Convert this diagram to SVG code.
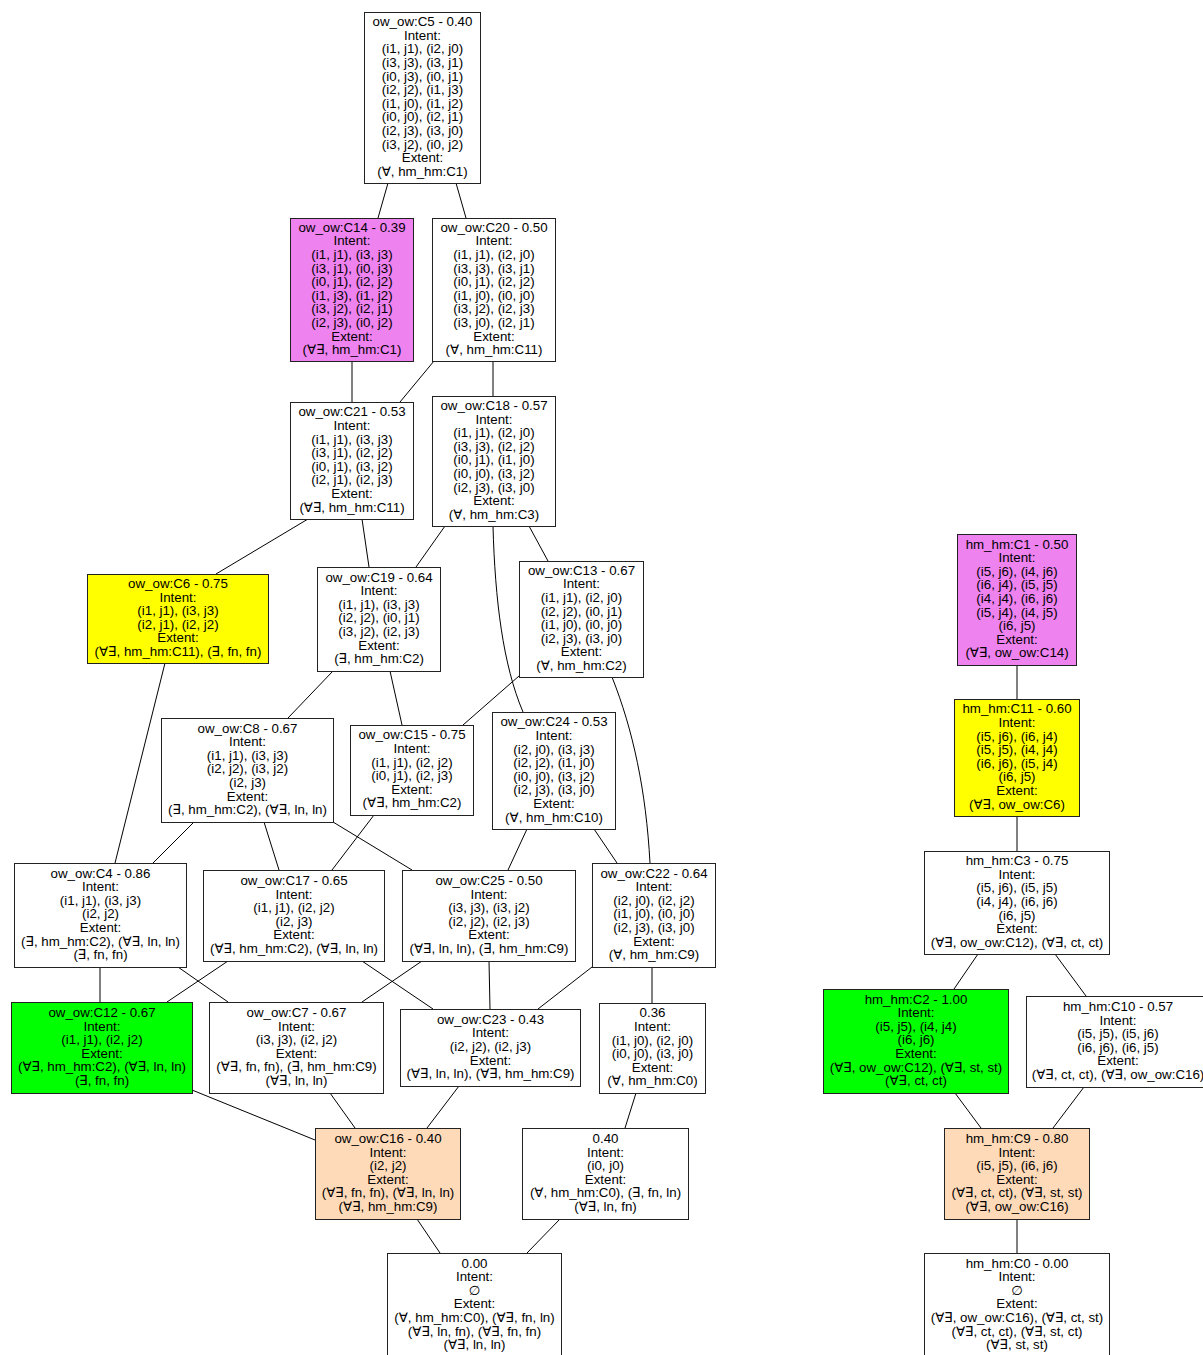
<svg xmlns="http://www.w3.org/2000/svg" width="1203" height="1355" viewBox="0 0 1203 1355">
<style>
.n{fill:#ffffff;stroke:#222222;stroke-width:1}
.v{fill:#ee82ee}
.y{fill:#ffff00}
.g{fill:#00ff00}
.p{fill:#ffdab9}
text{font-family:"Liberation Sans","DejaVu Sans",sans-serif;font-size:13.3px;text-anchor:middle;fill:#000000}
#edges path,#edges line{stroke:#000000;stroke-width:1;fill:none}
</style>
<rect width="1203" height="1355" fill="#ffffff"/>
<g id="edges">
<line x1="388" y1="183" x2="378" y2="218"/>
<line x1="456" y1="183" x2="466" y2="218"/>
<line x1="352" y1="361" x2="352" y2="402"/>
<line x1="434" y1="361" x2="400" y2="402"/>
<line x1="493" y1="361" x2="493" y2="396"/>
<line x1="308" y1="519" x2="216" y2="574"/>
<line x1="362" y1="519" x2="369" y2="567"/>
<line x1="445" y1="526" x2="416" y2="567"/>
<line x1="529" y1="526" x2="548" y2="561"/>
<path d="M493,526 C495,600 503,665 523,712"/>
<line x1="333" y1="671" x2="288" y2="718"/>
<line x1="390" y1="671" x2="402" y2="725"/>
<line x1="165" y1="663" x2="115" y2="863"/>
<line x1="519" y1="676" x2="463" y2="725"/>
<path d="M612,677 C633,730 646,790 650,863"/>
<line x1="194" y1="822" x2="153" y2="863"/>
<line x1="264" y1="822" x2="279" y2="870"/>
<line x1="333" y1="822" x2="412" y2="870"/>
<line x1="374" y1="815" x2="332" y2="870"/>
<line x1="527" y1="829" x2="508" y2="870"/>
<line x1="594" y1="829" x2="617" y2="863"/>
<line x1="100" y1="967" x2="100" y2="1002"/>
<line x1="178" y1="967" x2="228" y2="1002"/>
<line x1="228" y1="961" x2="167" y2="1002"/>
<line x1="362" y1="961" x2="433" y2="1009"/>
<line x1="422" y1="961" x2="362" y2="1002"/>
<line x1="489" y1="961" x2="490" y2="1009"/>
<line x1="592" y1="967" x2="538" y2="1009"/>
<line x1="652" y1="967" x2="652" y2="1003"/>
<line x1="192" y1="1090" x2="315" y2="1140"/>
<line x1="330" y1="1093" x2="355" y2="1128"/>
<line x1="459" y1="1086" x2="427" y2="1128"/>
<line x1="636" y1="1093" x2="625" y2="1128"/>
<line x1="417" y1="1219" x2="440" y2="1253"/>
<line x1="560" y1="1219" x2="527" y2="1253"/>
<line x1="1017" y1="665" x2="1017" y2="699"/>
<line x1="1017" y1="816" x2="1017" y2="851"/>
<line x1="978" y1="954" x2="954" y2="989"/>
<line x1="1055" y1="954" x2="1086" y2="996"/>
<line x1="955" y1="1093" x2="981" y2="1128"/>
<line x1="1084" y1="1087" x2="1053" y2="1128"/>
<line x1="1017" y1="1219" x2="1017" y2="1253"/>
</g>

<g id="ow_C5">
<rect class="n" x="364.5" y="12.5" width="116" height="171"/>
<text y="26.1"><tspan x="422.5">ow_ow:C5 - 0.40</tspan><tspan x="422.5" dy="13.6">Intent:</tspan><tspan x="422.5" dy="13.6">(i1, j1), (i2, j0)</tspan><tspan x="422.5" dy="13.6">(i3, j3), (i3, j1)</tspan><tspan x="422.5" dy="13.6">(i0, j3), (i0, j1)</tspan><tspan x="422.5" dy="13.6">(i2, j2), (i1, j3)</tspan><tspan x="422.5" dy="13.6">(i1, j0), (i1, j2)</tspan><tspan x="422.5" dy="13.6">(i0, j0), (i2, j1)</tspan><tspan x="422.5" dy="13.6">(i2, j3), (i3, j0)</tspan><tspan x="422.5" dy="13.6">(i3, j2), (i0, j2)</tspan><tspan x="422.5" dy="13.6">Extent:</tspan><tspan x="422.5" dy="13.6">(∀, hm_hm:C1)</tspan></text>
</g>

<g id="ow_C14">
<rect class="n v" x="290.5" y="218.5" width="123" height="143"/>
<text y="231.7"><tspan x="352">ow_ow:C14 - 0.39</tspan><tspan x="352" dy="13.6">Intent:</tspan><tspan x="352" dy="13.6">(i1, j1), (i3, j3)</tspan><tspan x="352" dy="13.6">(i3, j1), (i0, j3)</tspan><tspan x="352" dy="13.6">(i0, j1), (i2, j2)</tspan><tspan x="352" dy="13.6">(i1, j3), (i1, j2)</tspan><tspan x="352" dy="13.6">(i3, j2), (i2, j1)</tspan><tspan x="352" dy="13.6">(i2, j3), (i0, j2)</tspan><tspan x="352" dy="13.6">Extent:</tspan><tspan x="352" dy="13.6">(∀∃, hm_hm:C1)</tspan></text>
</g>

<g id="ow_C20">
<rect class="n" x="432.5" y="218.5" width="123" height="143"/>
<text y="231.7"><tspan x="494">ow_ow:C20 - 0.50</tspan><tspan x="494" dy="13.6">Intent:</tspan><tspan x="494" dy="13.6">(i1, j1), (i2, j0)</tspan><tspan x="494" dy="13.6">(i3, j3), (i3, j1)</tspan><tspan x="494" dy="13.6">(i0, j1), (i2, j2)</tspan><tspan x="494" dy="13.6">(i1, j0), (i0, j0)</tspan><tspan x="494" dy="13.6">(i3, j2), (i2, j3)</tspan><tspan x="494" dy="13.6">(i3, j0), (i2, j1)</tspan><tspan x="494" dy="13.6">Extent:</tspan><tspan x="494" dy="13.6">(∀, hm_hm:C11)</tspan></text>
</g>

<g id="ow_C21">
<rect class="n" x="290.5" y="402.5" width="123" height="117"/>
<text y="416.3"><tspan x="352">ow_ow:C21 - 0.53</tspan><tspan x="352" dy="13.6">Intent:</tspan><tspan x="352" dy="13.6">(i1, j1), (i3, j3)</tspan><tspan x="352" dy="13.6">(i3, j1), (i2, j2)</tspan><tspan x="352" dy="13.6">(i0, j1), (i3, j2)</tspan><tspan x="352" dy="13.6">(i2, j1), (i2, j3)</tspan><tspan x="352" dy="13.6">Extent:</tspan><tspan x="352" dy="13.6">(∀∃, hm_hm:C11)</tspan></text>
</g>

<g id="ow_C18">
<rect class="n" x="432.5" y="396.5" width="123" height="130"/>
<text y="410"><tspan x="494">ow_ow:C18 - 0.57</tspan><tspan x="494" dy="13.6">Intent:</tspan><tspan x="494" dy="13.6">(i1, j1), (i2, j0)</tspan><tspan x="494" dy="13.6">(i3, j3), (i2, j2)</tspan><tspan x="494" dy="13.6">(i0, j1), (i1, j0)</tspan><tspan x="494" dy="13.6">(i0, j0), (i3, j2)</tspan><tspan x="494" dy="13.6">(i2, j3), (i3, j0)</tspan><tspan x="494" dy="13.6">Extent:</tspan><tspan x="494" dy="13.6">(∀, hm_hm:C3)</tspan></text>
</g>

<g id="ow_C6">
<rect class="n y" x="87.5" y="574.5" width="181" height="89"/>
<text y="587.9"><tspan x="178">ow_ow:C6 - 0.75</tspan><tspan x="178" dy="13.6">Intent:</tspan><tspan x="178" dy="13.6">(i1, j1), (i3, j3)</tspan><tspan x="178" dy="13.6">(i2, j1), (i2, j2)</tspan><tspan x="178" dy="13.6">Extent:</tspan><tspan x="178" dy="13.6">(∀∃, hm_hm:C11), (∃, fn, fn)</tspan></text>
</g>

<g id="ow_C19">
<rect class="n" x="317.5" y="567.5" width="123" height="104"/>
<text y="581.6"><tspan x="379">ow_ow:C19 - 0.64</tspan><tspan x="379" dy="13.6">Intent:</tspan><tspan x="379" dy="13.6">(i1, j1), (i3, j3)</tspan><tspan x="379" dy="13.6">(i2, j2), (i0, j1)</tspan><tspan x="379" dy="13.6">(i3, j2), (i2, j3)</tspan><tspan x="379" dy="13.6">Extent:</tspan><tspan x="379" dy="13.6">(∃, hm_hm:C2)</tspan></text>
</g>

<g id="ow_C13">
<rect class="n" x="519.5" y="561.5" width="124" height="116"/>
<text y="574.8"><tspan x="581.5">ow_ow:C13 - 0.67</tspan><tspan x="581.5" dy="13.6">Intent:</tspan><tspan x="581.5" dy="13.6">(i1, j1), (i2, j0)</tspan><tspan x="581.5" dy="13.6">(i2, j2), (i0, j1)</tspan><tspan x="581.5" dy="13.6">(i1, j0), (i0, j0)</tspan><tspan x="581.5" dy="13.6">(i2, j3), (i3, j0)</tspan><tspan x="581.5" dy="13.6">Extent:</tspan><tspan x="581.5" dy="13.6">(∀, hm_hm:C2)</tspan></text>
</g>

<g id="ow_C8">
<rect class="n" x="161.5" y="718.5" width="172" height="104"/>
<text y="732.6"><tspan x="247.5">ow_ow:C8 - 0.67</tspan><tspan x="247.5" dy="13.6">Intent:</tspan><tspan x="247.5" dy="13.6">(i1, j1), (i3, j3)</tspan><tspan x="247.5" dy="13.6">(i2, j2), (i3, j2)</tspan><tspan x="247.5" dy="13.6">(i2, j3)</tspan><tspan x="247.5" dy="13.6">Extent:</tspan><tspan x="247.5" dy="13.6">(∃, hm_hm:C2), (∀∃, ln, ln)</tspan></text>
</g>

<g id="ow_C15">
<rect class="n" x="350.5" y="725.5" width="123" height="90"/>
<text y="739.4"><tspan x="412">ow_ow:C15 - 0.75</tspan><tspan x="412" dy="13.6">Intent:</tspan><tspan x="412" dy="13.6">(i1, j1), (i2, j2)</tspan><tspan x="412" dy="13.6">(i0, j1), (i2, j3)</tspan><tspan x="412" dy="13.6">Extent:</tspan><tspan x="412" dy="13.6">(∀∃, hm_hm:C2)</tspan></text>
</g>

<g id="ow_C24">
<rect class="n" x="492.5" y="712.5" width="123" height="117"/>
<text y="726.3"><tspan x="554">ow_ow:C24 - 0.53</tspan><tspan x="554" dy="13.6">Intent:</tspan><tspan x="554" dy="13.6">(i2, j0), (i3, j3)</tspan><tspan x="554" dy="13.6">(i2, j2), (i1, j0)</tspan><tspan x="554" dy="13.6">(i0, j0), (i3, j2)</tspan><tspan x="554" dy="13.6">(i2, j3), (i3, j0)</tspan><tspan x="554" dy="13.6">Extent:</tspan><tspan x="554" dy="13.6">(∀, hm_hm:C10)</tspan></text>
</g>

<g id="ow_C4">
<rect class="n" x="14.5" y="863.5" width="172" height="104"/>
<text y="877.6"><tspan x="100.5">ow_ow:C4 - 0.86</tspan><tspan x="100.5" dy="13.6">Intent:</tspan><tspan x="100.5" dy="13.6">(i1, j1), (i3, j3)</tspan><tspan x="100.5" dy="13.6">(i2, j2)</tspan><tspan x="100.5" dy="13.6">Extent:</tspan><tspan x="100.5" dy="13.6">(∃, hm_hm:C2), (∀∃, ln, ln)</tspan><tspan x="100.5" dy="13.6">(∃, fn, fn)</tspan></text>
</g>

<g id="ow_C17">
<rect class="n" x="203.5" y="870.5" width="181" height="91"/>
<text y="884.9"><tspan x="294">ow_ow:C17 - 0.65</tspan><tspan x="294" dy="13.6">Intent:</tspan><tspan x="294" dy="13.6">(i1, j1), (i2, j2)</tspan><tspan x="294" dy="13.6">(i2, j3)</tspan><tspan x="294" dy="13.6">Extent:</tspan><tspan x="294" dy="13.6">(∀∃, hm_hm:C2), (∀∃, ln, ln)</tspan></text>
</g>

<g id="ow_C25">
<rect class="n" x="402.5" y="870.5" width="173" height="91"/>
<text y="884.9"><tspan x="489">ow_ow:C25 - 0.50</tspan><tspan x="489" dy="13.6">Intent:</tspan><tspan x="489" dy="13.6">(i3, j3), (i3, j2)</tspan><tspan x="489" dy="13.6">(i2, j2), (i2, j3)</tspan><tspan x="489" dy="13.6">Extent:</tspan><tspan x="489" dy="13.6">(∀∃, ln, ln), (∃, hm_hm:C9)</tspan></text>
</g>

<g id="ow_C22">
<rect class="n" x="592.5" y="863.5" width="123" height="104"/>
<text y="877.6"><tspan x="654">ow_ow:C22 - 0.64</tspan><tspan x="654" dy="13.6">Intent:</tspan><tspan x="654" dy="13.6">(i2, j0), (i2, j2)</tspan><tspan x="654" dy="13.6">(i1, j0), (i0, j0)</tspan><tspan x="654" dy="13.6">(i2, j3), (i3, j0)</tspan><tspan x="654" dy="13.6">Extent:</tspan><tspan x="654" dy="13.6">(∀, hm_hm:C9)</tspan></text>
</g>

<g id="ow_C12">
<rect class="n g" x="11.5" y="1002.5" width="181" height="91"/>
<text y="1016.9"><tspan x="102">ow_ow:C12 - 0.67</tspan><tspan x="102" dy="13.6">Intent:</tspan><tspan x="102" dy="13.6">(i1, j1), (i2, j2)</tspan><tspan x="102" dy="13.6">Extent:</tspan><tspan x="102" dy="13.6">(∀∃, hm_hm:C2), (∀∃, ln, ln)</tspan><tspan x="102" dy="13.6">(∃, fn, fn)</tspan></text>
</g>

<g id="ow_C7">
<rect class="n" x="209.5" y="1002.5" width="174" height="91"/>
<text y="1016.9"><tspan x="296.5">ow_ow:C7 - 0.67</tspan><tspan x="296.5" dy="13.6">Intent:</tspan><tspan x="296.5" dy="13.6">(i3, j3), (i2, j2)</tspan><tspan x="296.5" dy="13.6">Extent:</tspan><tspan x="296.5" dy="13.6">(∀∃, fn, fn), (∃, hm_hm:C9)</tspan><tspan x="296.5" dy="13.6">(∀∃, ln, ln)</tspan></text>
</g>

<g id="ow_C23">
<rect class="n" x="400.5" y="1009.5" width="180" height="77"/>
<text y="1023.7"><tspan x="490.5">ow_ow:C23 - 0.43</tspan><tspan x="490.5" dy="13.6">Intent:</tspan><tspan x="490.5" dy="13.6">(i2, j2), (i2, j3)</tspan><tspan x="490.5" dy="13.6">Extent:</tspan><tspan x="490.5" dy="13.6">(∀∃, ln, ln), (∀∃, hm_hm:C9)</tspan></text>
</g>

<g id="ow_036">
<rect class="n" x="599.5" y="1003.5" width="106" height="90"/>
<text y="1017.4"><tspan x="652.5">0.36</tspan><tspan x="652.5" dy="13.6">Intent:</tspan><tspan x="652.5" dy="13.6">(i1, j0), (i2, j0)</tspan><tspan x="652.5" dy="13.6">(i0, j0), (i3, j0)</tspan><tspan x="652.5" dy="13.6">Extent:</tspan><tspan x="652.5" dy="13.6">(∀, hm_hm:C0)</tspan></text>
</g>

<g id="ow_C16">
<rect class="n p" x="315.5" y="1128.5" width="145" height="91"/>
<text y="1142.9"><tspan x="388">ow_ow:C16 - 0.40</tspan><tspan x="388" dy="13.6">Intent:</tspan><tspan x="388" dy="13.6">(i2, j2)</tspan><tspan x="388" dy="13.6">Extent:</tspan><tspan x="388" dy="13.6">(∀∃, fn, fn), (∀∃, ln, ln)</tspan><tspan x="388" dy="13.6">(∀∃, hm_hm:C9)</tspan></text>
</g>

<g id="ow_040">
<rect class="n" x="522.5" y="1128.5" width="166" height="91"/>
<text y="1142.9"><tspan x="605.5">0.40</tspan><tspan x="605.5" dy="13.6">Intent:</tspan><tspan x="605.5" dy="13.6">(i0, j0)</tspan><tspan x="605.5" dy="13.6">Extent:</tspan><tspan x="605.5" dy="13.6">(∀, hm_hm:C0), (∃, fn, ln)</tspan><tspan x="605.5" dy="13.6">(∀∃, ln, fn)</tspan></text>
</g>

<g id="ow_000">
<rect class="n" x="387.5" y="1253.5" width="174" height="104"/>
<text y="1267.6"><tspan x="474.5">0.00</tspan><tspan x="474.5" dy="13.6">Intent:</tspan><tspan x="474.5" dy="13.6">∅</tspan><tspan x="474.5" dy="13.6">Extent:</tspan><tspan x="474.5" dy="13.6">(∀, hm_hm:C0), (∀∃, fn, ln)</tspan><tspan x="474.5" dy="13.6">(∀∃, ln, fn), (∀∃, fn, fn)</tspan><tspan x="474.5" dy="13.6">(∀∃, ln, ln)</tspan></text>
</g>

<g id="hm_C1">
<rect class="n v" x="957.5" y="534.5" width="119" height="131"/>
<text y="548.5"><tspan x="1017">hm_hm:C1 - 0.50</tspan><tspan x="1017" dy="13.6">Intent:</tspan><tspan x="1017" dy="13.6">(i5, j6), (i4, j6)</tspan><tspan x="1017" dy="13.6">(i6, j4), (i5, j5)</tspan><tspan x="1017" dy="13.6">(i4, j4), (i6, j6)</tspan><tspan x="1017" dy="13.6">(i5, j4), (i4, j5)</tspan><tspan x="1017" dy="13.6">(i6, j5)</tspan><tspan x="1017" dy="13.6">Extent:</tspan><tspan x="1017" dy="13.6">(∀∃, ow_ow:C14)</tspan></text>
</g>

<g id="hm_C11">
<rect class="n y" x="954.5" y="699.5" width="125" height="117"/>
<text y="713.3"><tspan x="1017">hm_hm:C11 - 0.60</tspan><tspan x="1017" dy="13.6">Intent:</tspan><tspan x="1017" dy="13.6">(i5, j6), (i6, j4)</tspan><tspan x="1017" dy="13.6">(i5, j5), (i4, j4)</tspan><tspan x="1017" dy="13.6">(i6, j6), (i5, j4)</tspan><tspan x="1017" dy="13.6">(i6, j5)</tspan><tspan x="1017" dy="13.6">Extent:</tspan><tspan x="1017" dy="13.6">(∀∃, ow_ow:C6)</tspan></text>
</g>

<g id="hm_C3">
<rect class="n" x="924.5" y="851.5" width="185" height="103"/>
<text y="865.1"><tspan x="1017">hm_hm:C3 - 0.75</tspan><tspan x="1017" dy="13.6">Intent:</tspan><tspan x="1017" dy="13.6">(i5, j6), (i5, j5)</tspan><tspan x="1017" dy="13.6">(i4, j4), (i6, j6)</tspan><tspan x="1017" dy="13.6">(i6, j5)</tspan><tspan x="1017" dy="13.6">Extent:</tspan><tspan x="1017" dy="13.6">(∀∃, ow_ow:C12), (∀∃, ct, ct)</tspan></text>
</g>

<g id="hm_C2">
<rect class="n g" x="823.5" y="989.5" width="185" height="104"/>
<text y="1003.6"><tspan x="916">hm_hm:C2 - 1.00</tspan><tspan x="916" dy="13.6">Intent:</tspan><tspan x="916" dy="13.6">(i5, j5), (i4, j4)</tspan><tspan x="916" dy="13.6">(i6, j6)</tspan><tspan x="916" dy="13.6">Extent:</tspan><tspan x="916" dy="13.6">(∀∃, ow_ow:C12), (∀∃, st, st)</tspan><tspan x="916" dy="13.6">(∀∃, ct, ct)</tspan></text>
</g>

<g id="hm_C10">
<rect class="n" x="1026.5" y="996.5" width="184" height="91"/>
<text y="1010.9"><tspan x="1118">hm_hm:C10 - 0.57</tspan><tspan x="1118" dy="13.6">Intent:</tspan><tspan x="1118" dy="13.6">(i5, j5), (i5, j6)</tspan><tspan x="1118" dy="13.6">(i6, j6), (i6, j5)</tspan><tspan x="1118" dy="13.6">Extent:</tspan><tspan x="1118" dy="13.6">(∀∃, ct, ct), (∀∃, ow_ow:C16)</tspan></text>
</g>

<g id="hm_C9">
<rect class="n p" x="944.5" y="1128.5" width="145" height="91"/>
<text y="1142.9"><tspan x="1017">hm_hm:C9 - 0.80</tspan><tspan x="1017" dy="13.6">Intent:</tspan><tspan x="1017" dy="13.6">(i5, j5), (i6, j6)</tspan><tspan x="1017" dy="13.6">Extent:</tspan><tspan x="1017" dy="13.6">(∀∃, ct, ct), (∀∃, st, st)</tspan><tspan x="1017" dy="13.6">(∀∃, ow_ow:C16)</tspan></text>
</g>

<g id="hm_C0">
<rect class="n" x="924.5" y="1253.5" width="185" height="104"/>
<text y="1267.6"><tspan x="1017">hm_hm:C0 - 0.00</tspan><tspan x="1017" dy="13.6">Intent:</tspan><tspan x="1017" dy="13.6">∅</tspan><tspan x="1017" dy="13.6">Extent:</tspan><tspan x="1017" dy="13.6">(∀∃, ow_ow:C16), (∀∃, ct, st)</tspan><tspan x="1017" dy="13.6">(∀∃, ct, ct), (∀∃, st, ct)</tspan><tspan x="1017" dy="13.6">(∀∃, st, st)</tspan></text>
</g>
</svg>
